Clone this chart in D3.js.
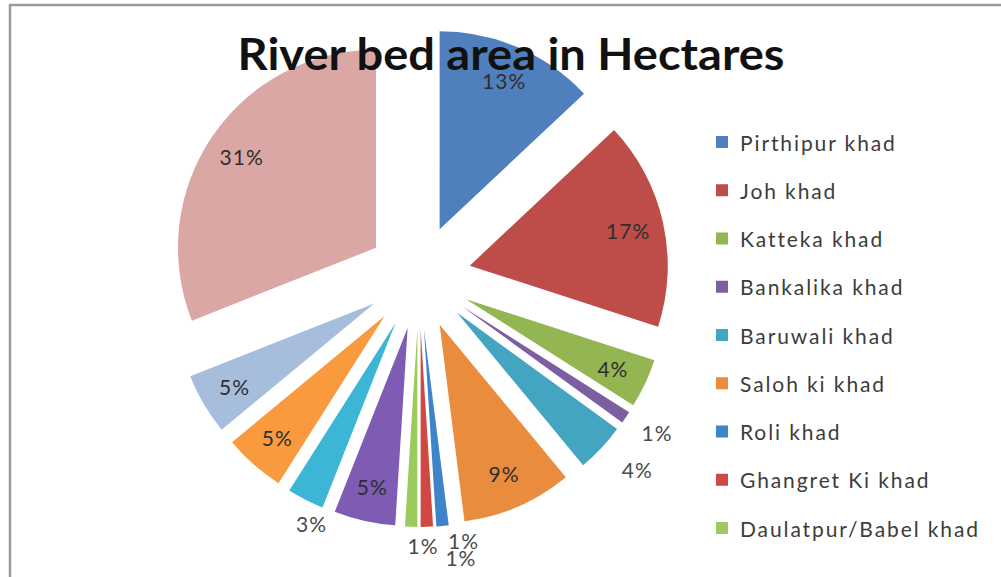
<!DOCTYPE html>
<html>
<head>
<meta charset="utf-8">
<script src="https://cdn.jsdelivr.net/npm/d3@7"></script>
<style>
  html, body { margin: 0; padding: 0; background: #ffffff; }
  svg { display: block; }
</style>
</head>
<body>
<svg id="chart" width="1001" height="577"></svg>
<script>
// River bed area per khad, as a share of the total (percent)
const chartTitle = "River bed area in Hectares";
const khads = [
  "Pirthipur khad", "Joh khad", "Katteka khad", "Bankalika khad", "Baruwali khad",
  "Saloh ki khad", "Roli khad", "Ghangret Ki khad", "Daulatpur/Babel khad"
];
const shares = [13, 17, 4, 1, 4, 9, 1, 1, 1, 5, 3, 5, 5, 31];
const palette = [
  "#4f80bd", "#be4d4a", "#93b552", "#7c5fa1", "#44a5c1", "#e98c3e",
  "#3f84cb", "#cf4842", "#9ccb5d", "#7e5cb4", "#3db5d5", "#f99a3f",
  "#a7bddc", "#dba7a5"
];

const svg = d3.select("#chart");
const W = 1001, H = 577;

// chart area frame
svg.append("rect")
  .attr("x", 10).attr("y", 5)
  .attr("width", W + 20).attr("height", H + 20)
  .attr("fill", "#ffffff")
  .attr("stroke", "#9a9a9a")
  .attr("stroke-width", 2.5);

const cx = 419, cy = 277, R = 198, explode = 52;

const pie = d3.pie().sort(null).value(d => d);
const arcs = pie(shares);
const arc = d3.arc().innerRadius(0).outerRadius(R);

const mid = a => (a.startAngle + a.endAngle) / 2;
const tipOf = a => [cx + explode * Math.sin(mid(a)), cy - explode * Math.cos(mid(a))];

const pieG = svg.append("g");
pieG.selectAll("path")
  .data(arcs)
  .join("path")
  .attr("transform", d => { const t = tipOf(d); return `translate(${t[0]},${t[1]})`; })
  .attr("d", arc)
  .attr("fill", (d, i) => palette[i]);

// labels: slices too thin for text get theirs outside the rim
const outside = new Map([
  [3, [4, -4]], [4, [12, -1]], [6, [18, -18]], [7, [33, -2]], [8, [13, -14]], [10, [21, -6]]
]);
svg.append("g")
  .selectAll("text")
  .data(arcs)
  .join("text")
  .attr("x", (d, i) => {
    const t = tipOf(d), m = mid(d);
    if (outside.has(i)) return t[0] + (R + 33) * Math.sin(m) + outside.get(i)[0];
    return t[0] + 0.82 * R * Math.sin(m);
  })
  .attr("y", (d, i) => {
    const t = tipOf(d), m = mid(d);
    if (outside.has(i)) return t[1] - (R + 33) * Math.cos(m) + outside.get(i)[1];
    return t[1] - 0.82 * R * Math.cos(m);
  })
  .attr("text-anchor", "middle")
  .attr("dominant-baseline", "central")
  .attr("font-family", "Lato, 'Open Sans', sans-serif")
  .attr("font-size", 21)
  .attr("letter-spacing", 1)
  .attr("fill", (d, i) => outside.has(i) ? "#4a4a4a" : "#2e2e2e")
  .text(d => `${d.data}%`);

// title sits above the pie
svg.append("text")
  .attr("x", 511).attr("y", 70)
  .attr("text-anchor", "middle")
  .attr("font-family", "Lato, 'Open Sans', sans-serif")
  .attr("font-weight", "bold")
  .attr("font-size", 43)
  .attr("fill", "#111111")
  .attr("textLength", 547)
  .attr("lengthAdjust", "spacingAndGlyphs")
  .text(chartTitle);

// legend: room for the first nine entries
const legend = svg.append("g");
const rowY = d3.scalePoint().domain(d3.range(khads.length)).range([142, 528]);
const item = legend.selectAll("g")
  .data(khads)
  .join("g")
  .attr("transform", (d, i) => `translate(716,${rowY(i)})`);
item.append("rect")
  .attr("x", 0).attr("y", -6)
  .attr("width", 12).attr("height", 12)
  .attr("fill", (d, i) => palette[i]);
item.append("text")
  .attr("x", 24).attr("y", 0)
  .attr("dominant-baseline", "central")
  .attr("font-family", "Lato, 'Open Sans', sans-serif")
  .attr("font-size", 21)
  .attr("letter-spacing", 1.9)
  .attr("fill", "#3c3c3c")
  .text(d => d);
</script>
</body>
</html>
